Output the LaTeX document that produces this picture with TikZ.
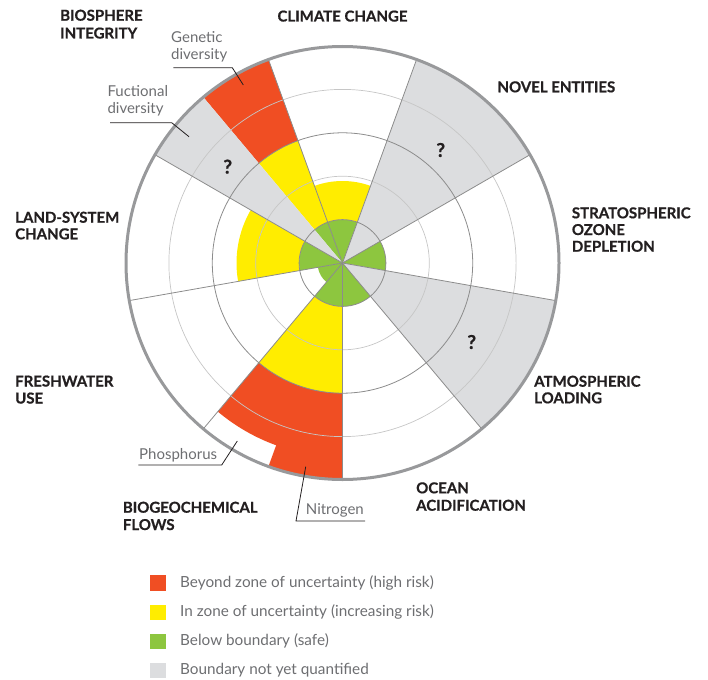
\documentclass[tikz,border=0pt]{standalone}
\usepackage{fontspec}
\setmainfont{Lato}
\newfontfamily\heavyfont{Lato}[BoldFeatures={FakeBold=0.7}]
\definecolor{cRed}{HTML}{F04E23}
\definecolor{cYellow}{HTML}{FFED00}
\definecolor{cGreen}{HTML}{8DC63F}
\definecolor{cGrey}{HTML}{DCDDDF}
\definecolor{cOuter}{HTML}{98999B}
\definecolor{cSpoke}{HTML}{8C8C8C}
\definecolor{cRingLight}{HTML}{C6C6C6}
\definecolor{cText}{HTML}{231F20}
\definecolor{cSub}{HTML}{6D6E71}
\newcommand\pbfull[4]{% start, end, r, colour (from centre)
  \fill[#4] (0,0) -- (#1:#3) arc[start angle=#1,end angle=#2,radius=#3] -- cycle;}
\newcommand\pbband[5]{% start, end, r1, r2, colour
  \fill[#5] (#1:#3) arc[start angle=#1,end angle=#2,radius=#3] -- (#2:#4) arc[start angle=#2,end angle=#1,radius=#4] -- cycle;}
\tikzset{
  spoke/.style={draw=cSpoke,line width=0.8pt},
  ringdark/.style={draw=cSpoke,line width=0.8pt},
  ringlight/.style={draw=cRingLight,line width=0.7pt},
  outerring/.style={draw=cOuter,line width=3pt},
  lbl/.style={anchor=base west,inner sep=0pt,font=\heavyfont\bfseries\fontsize{15}{17}\selectfont,text=cText},
  lblc/.style={lbl,anchor=base},
  sublbl/.style={anchor=base west,inner sep=0pt,font=\fontsize{15}{17}\selectfont,text=cSub},
  qmark/.style={inner sep=0pt,font=\heavyfont\bfseries\fontsize{19}{20}\selectfont,text=cText},
  leader/.style={draw=cText,line width=0.8pt},
  legtext/.style={anchor=base west,inner sep=0pt,font=\fontsize{15.3}{17}\selectfont,text=cSub},
  legbox/.style={minimum size=15.5pt,inner sep=0pt,anchor=north west,draw=none},
}
\begin{document}
\begin{tikzpicture}[x=1pt,y=1pt]
\useasboundingbox (0,0) rectangle (708,-679);
\begin{scope}[shift={(342.5,-263)}]
  % climate change
  \pbfull{70}{110}{43.4}{cGreen}
  \pbband{70}{110}{43.4}{82}{cYellow}
  % novel entities
  \pbfull{30}{70}{216.5}{cGrey}
  % ozone
  \pbfull{-10}{30}{43.4}{cGreen}
  % atmospheric loading
  \pbfull{-50}{-10}{216.5}{cGrey}
  % ocean
  \pbfull{-90}{-50}{43.4}{cGreen}
  % biogeochemical flows (phosphorus -130..-110, nitrogen -110..-90)
  \pbfull{-130}{-90}{43.4}{cGreen}
  \pbband{-130}{-90}{43.4}{130.2}{cYellow}
  \pbband{-130}{-90}{130.2}{194}{cRed}
  \pbband{-110}{-90}{190}{216.5}{cRed}
  % freshwater
  \pbfull{-170}{-130}{25}{cGreen}
  % land-system
  \pbfull{150}{190}{43.4}{cGreen}
  \pbband{150}{190}{43.4}{106}{cYellow}
  % genetic diversity
  \pbfull{110}{130}{43.4}{cGreen}
  \pbband{110}{130}{43.4}{130.2}{cYellow}
  \pbband{110}{130}{130.2}{216.5}{cRed}
  % functional diversity
  \pbfull{130}{150}{216.5}{cGrey}
  % rings
  \draw[ringdark] (0,0) circle[radius=43.4];
  \draw[ringlight] (0,0) circle[radius=86.8];
  \draw[ringdark] (0,0) circle[radius=130.2];
  \draw[ringlight] (0,0) circle[radius=173.6];
  % spokes
  \foreach \a in {110,70,30,-10,-50,-90,-130,-170,150}
    \draw[spoke] (0,0) -- (\a:216.5);
  % outer ring
  \draw[outerring] (0,0) circle[radius=216.5];
\end{scope}
% question marks
\node[qmark] (q1) at (227.7,-166.7) {?};
\node[qmark] (q2) at (440.7,-150) {?};
\node[qmark] (q3) at (471.7,-342) {?};
% boundary labels
\node[lbl] (bio1) at (60,-20.7) {BIOSPHERE};
\node[lbl] (bio2) at (60,-38.5) {INTEGRITY};
\node[lblc] (clim) at (342.5,-21.5) {CLIMATE CHANGE};
\node[lbl] (nov) at (497.3,-92.3) {NOVEL ENTITIES};
\node[lbl] (oz1) at (571.7,-218.3) {STRATOSPHERIC};
\node[lbl] (oz2) at (571.7,-235) {OZONE};
\node[lbl] (oz3) at (571.7,-251.7) {DEPLETION};
\node[lbl] (atm1) at (534,-386.7) {ATMOSPHERIC};
\node[lbl] (atm2) at (534,-403.3) {LOADING};
\node[lbl] (oc1) at (416,-493.3) {OCEAN};
\node[lbl] (oc2) at (416,-510.7) {ACIDIFICATION};
\node[lbl] (bgc1) at (122.7,-512.7) {BIOGEOCHEMICAL};
\node[lbl] (bgc2) at (122.7,-530) {FLOWS};
\node[lbl] (fw1) at (15,-386.5) {FRESHWATER};
\node[lbl] (fw2) at (15,-403.5) {USE};
\node[lbl] (ls1) at (15,-222.7) {LAND-SYSTEM};
\node[lbl] (ls2) at (15,-239.3) {CHANGE};
% sub labels
\node[sublbl] (gen1) at (171,-42.7) {Genetic};
\node[sublbl] (gen2) at (171,-59.3) {diversity};
\node[sublbl] (fun1) at (107.3,-96.7) {Fuctional};
\node[sublbl] (fun2) at (107.3,-113.3) {diversity};
\node[sublbl] (pho) at (139,-459) {Phosphorus};
\node[sublbl] (nit) at (305.7,-514) {Nitrogen};
% leader lines
\coordinate (genA) at (173.3,-67.7);
\coordinate (genB) at (232.3,-67.7);
\coordinate (genC) at (243.3,-85);
\coordinate (funA) at (110,-122.7);
\coordinate (funB) at (171.7,-122.7);
\coordinate (funC) at (189,-136.7);
\coordinate (phoA) at (138.3,-465);
\coordinate (phoB) at (221.7,-465);
\coordinate (phoC) at (237.3,-441);
\coordinate (nitA) at (365,-521);
\coordinate (nitB) at (296,-521);
\coordinate (nitC) at (305.7,-466.7);
\draw[leader] (genA) -- (genB) -- (genC);
\draw[leader] (funA) -- (funB) -- (funC);
\draw[leader] (phoA) -- (phoB) -- (phoC);
\draw[leader] (nitA) -- (nitB) -- (nitC);
% legend
\node[legbox,fill=cRed] (lr) at (150,-575) {};
\node[legbox,fill=cYellow] (ly) at (150,-604.3) {};
\node[legbox,fill=cGreen] (lg) at (150,-633.3) {};
\node[legbox,fill=cGrey] (lq) at (150,-662.5) {};
\node[legtext] (tr) at (180,-587.7) {Beyond zone of uncertainty (high risk)};
\node[legtext] (ty) at (180,-616.7) {In zone of uncertainty (increasing risk)};
\node[legtext] (tg) at (180,-645.7) {Below boundary (safe)};
\node[legtext] (tq) at (180,-674.3) {Boundary not yet quantified};
\end{tikzpicture}
\end{document}
